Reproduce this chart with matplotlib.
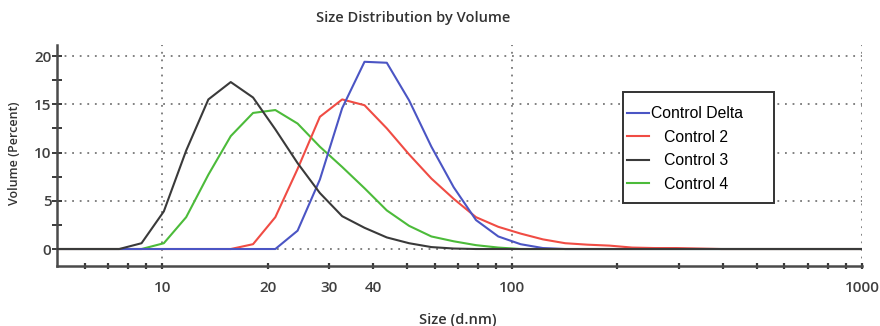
import matplotlib
matplotlib.use("Agg")
import matplotlib.pyplot as plt
from matplotlib.patches import Rectangle
from matplotlib.ticker import FixedLocator, NullFormatter

# Size bins (d.nm) of the instrument, and volume % per series
sizes = [4.849, 5.615, 6.503, 7.531, 8.721, 10.10, 11.70, 13.54, 15.69, 18.17,
         21.04, 24.36, 28.21, 32.67, 37.84, 43.82, 50.75, 58.77, 68.06, 78.82,
         91.28, 105.7, 122.4, 141.8, 164.2, 190.1, 220.2, 255.0, 295.3, 342.0,
         396.1, 458.7, 531.2, 615.1, 712.4, 825.0, 955.4, 1106.0]

control_delta = [0] * 11 + [1.9, 7.2, 14.6, 19.4, 19.3, 15.4, 10.6, 6.4, 3.0, 1.3,
                            0.5, 0.1] + [0] * 15
control_2 = [0] * 9 + [0.5, 3.3, 8.3, 13.7, 15.5, 14.9, 12.5, 9.8, 7.3, 5.2, 3.3,
                       2.3, 1.6, 1.0, 0.6, 0.45, 0.35, 0.15, 0.1, 0.1, 0.05] + [0] * 8
control_3 = [0] * 3 + [0, 0.6, 3.9, 10.2, 15.5, 17.3, 15.7, 12.4, 8.9, 5.8, 3.4,
                       2.2, 1.2, 0.6, 0.2, 0.05, 0] + [0] * 18
control_4 = [0] * 4 + [0, 0.6, 3.3, 7.7, 11.7, 14.1, 14.4, 13.0, 10.6, 8.5, 6.3,
                       4.0, 2.4, 1.3, 0.8, 0.4, 0.15, 0] + [0] * 16

x_labeled = [10, 20, 30, 40, 100, 1000]
x_minor = [6, 7, 8, 9, 50, 60, 70, 80, 90, 200, 300, 400, 500, 600, 700, 800, 900]

plt.rcParams['font.family'] = ['Open Sans', 'DejaVu Sans']

fig = plt.figure(figsize=(8.8, 3.26), dpi=100)
ax = fig.add_axes([57 / 880, 1 - 266 / 326, 805 / 880, 221 / 326])

ax.set_xscale('log')
ax.set_xlim(5, 1000)
ax.set_ylim(-1.76, 21.14)

# dotted grid
for y in [0, 5, 10, 15, 20]:
    ax.axhline(y, color='#777777', lw=1.3, ls=(0, (1, 3.2)), zorder=1)
for x in [10, 100, 1000]:
    ax.axvline(x, color='#777777', lw=1.3, ls=(0, (1, 3.2)), zorder=1)

lw = 1.5
l4, = ax.plot(sizes, control_4, color='#4cbb3a', lw=lw, zorder=2)
l2, = ax.plot(sizes, control_2, color='#f04c44', lw=lw, zorder=3)
ld, = ax.plot(sizes, control_delta, color='#4b55c4', lw=lw, zorder=4)
l3, = ax.plot(sizes, control_3, color='#3a3a3a', lw=lw, zorder=5)

# spines
for s in ['top', 'right']:
    ax.spines[s].set_visible(False)
for s in ['left', 'bottom']:
    ax.spines[s].set_color('#4a4a4a')
    ax.spines[s].set_linewidth(1.8)

ax.set_yticks([0, 5, 10, 15, 20])
ax.set_yticks([2.5, 7.5, 12.5, 17.5], minor=True)
ax.xaxis.set_major_locator(FixedLocator(x_labeled))
ax.xaxis.set_minor_locator(FixedLocator(x_minor))
ax.xaxis.set_minor_formatter(NullFormatter())
ax.set_xticklabels([str(v) for v in x_labeled])

ax.tick_params(axis='y', which='both', direction='inout', length=7, width=1.4,
               color='#3a3a3a', labelsize=11, labelcolor='#404040', pad=0.5)
ax.tick_params(axis='x', which='both', direction='inout', length=5, width=1.6,
               color='#3a3a3a', labelsize=11, labelcolor='#404040', pad=8)
for lab in ax.get_xticklabels() + ax.get_yticklabels():
    lab.set_fontweight('semibold')

fig.text(0.470, 1 - 18 / 326, 'Size Distribution by Volume', ha='center', va='center',
         fontsize=10.5, color='#333333', fontweight='semibold')
fig.text(458 / 880, 1 - 320 / 326, 'Size (d.nm)', ha='center', va='center',
         fontsize=10.5, color='#333333', fontweight='semibold')
fig.text(15 / 880, 1 - 153 / 326, 'Volume (Percent)', ha='center', va='center',
         rotation=90, fontsize=9, color='#333333', fontweight='semibold')

# legend box drawn separately so its padding can match the original
box = Rectangle((623 / 880, 1 - 203 / 326), 151 / 880, 111 / 326,
                transform=fig.transFigure, facecolor='white', edgecolor='#333333',
                lw=1.4, clip_on=False, zorder=9)
ax.add_patch(box)
leg = ax.legend([ld, l2, l3, l4],
                ['Control Delta', '   Control 2', '   Control 3', '   Control 4'],
                loc='upper left', bbox_to_anchor=(627 / 880, 1 - 106 / 326),
                bbox_transform=fig.transFigure, borderaxespad=0,
                prop={'family': 'Liberation Sans', 'size': 11.3},
                frameon=False, handlelength=1.4, handletextpad=0.1,
                labelspacing=0.55, borderpad=0)
leg.set_zorder(10)

fig.savefig('out.png', dpi=100)
